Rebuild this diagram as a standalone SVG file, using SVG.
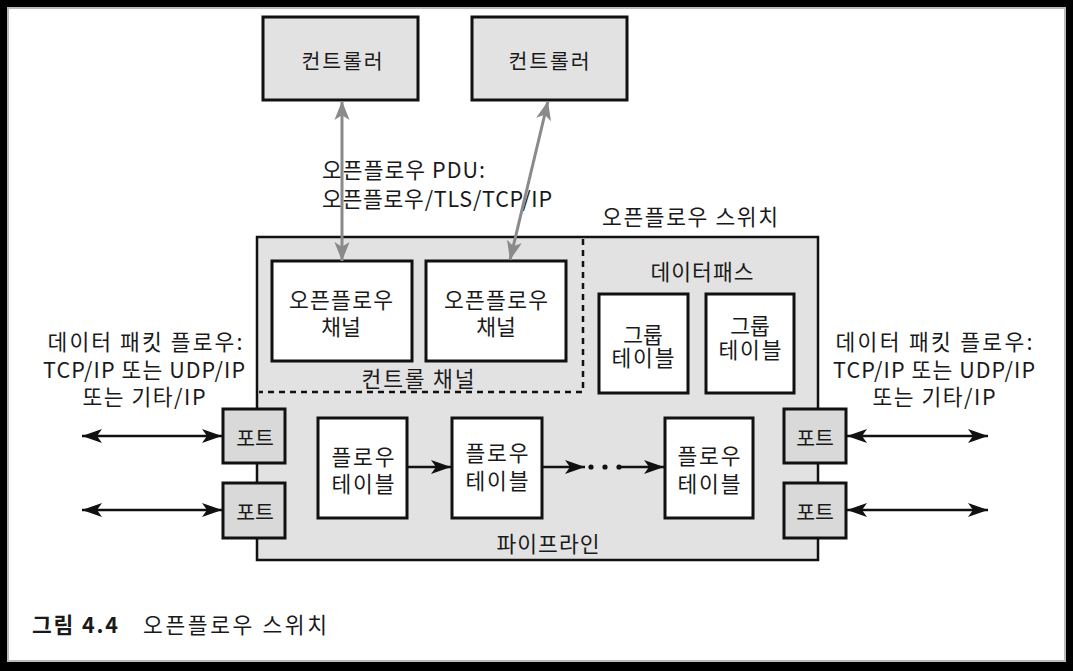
<svg xmlns="http://www.w3.org/2000/svg" width="1073" height="671" viewBox="0 0 1073 671">
<defs>
<style>
text{font-family:"Noto Sans CJK KR","Noto Sans",sans-serif;font-size:21.5px;fill:#1a1a1a;text-anchor:middle;dominant-baseline:central}
.lt{text-anchor:start}
.s20{font-size:20.5px}
.gray{fill:#e2e2e2;stroke:#111;stroke-width:3}
.port{fill:#d9d9d9;stroke:#111;stroke-width:3}
.white{fill:#fff;stroke:#111;stroke-width:3}
.blk{stroke:#111;stroke-width:2.5;fill:none}
.gry{stroke:#8a8a8a;stroke-width:3;fill:none}
</style>
<marker id="ab" viewBox="0 0 20 14" refX="20" refY="7" markerWidth="20" markerHeight="14" markerUnits="userSpaceOnUse" orient="auto-start-reverse"><path d="M0,0 L20,7 L0,14 L5,7 Z" fill="#111"/></marker>
<marker id="ag" viewBox="0 0 20 16" refX="20" refY="8" markerWidth="19" markerHeight="16" markerUnits="userSpaceOnUse" orient="auto-start-reverse"><path d="M0,0 L20,8 L0,16 L5,8 Z" fill="#8a8a8a"/></marker>
</defs>
<rect x="0" y="0" width="1073" height="671" fill="#000"/>
<rect x="8" y="8" width="1057" height="653" fill="#fff" stroke="#bbb" stroke-width="2"/>

<g id="switch">
<rect x="257" y="237" width="561" height="323" fill="#e2e2e2" stroke="#111" stroke-width="2.5"/>
<text x="690" y="215" textLength="176" lengthAdjust="spacing">오픈플로우 스위치</text>
<path d="M583,239 V392 H259" fill="none" stroke="#111" stroke-width="2.5" stroke-dasharray="6,5"/>
<text x="418" y="377" textLength="113" lengthAdjust="spacing">컨트롤 채널</text>
<text x="702" y="270" textLength="103" lengthAdjust="spacing">데이터패스</text>
<text x="548" y="542" textLength="103" lengthAdjust="spacing">파이프라인</text>
</g>

<g id="controller1"><rect class="gray" x="263" y="17" width="155" height="83"/><text class="s20" x="342" y="60" textLength="81" lengthAdjust="spacing">컨트롤러</text></g>
<g id="controller2"><rect class="gray" x="472" y="17" width="155" height="83"/><text class="s20" x="549" y="60" textLength="81" lengthAdjust="spacing">컨트롤러</text></g>

<g id="pdu-label">
<text class="lt" x="322" y="168"><tspan textLength="163" lengthAdjust="spacing">오픈플로우 PDU:</tspan><tspan x="322" dy="29" textLength="230" lengthAdjust="spacing">오픈플로우/TLS/TCP/IP</tspan></text>
</g>

<g id="channel1"><rect class="white" x="272" y="261" width="140" height="100"/><text x="341" y="298"><tspan textLength="104" lengthAdjust="spacing">오픈플로우</tspan><tspan x="341" dy="27">채널</tspan></text></g>
<g id="channel2"><rect class="white" x="426" y="261" width="140" height="100"/><text x="496" y="298"><tspan textLength="104" lengthAdjust="spacing">오픈플로우</tspan><tspan x="496" dy="27">채널</tspan></text></g>

<g id="group1"><rect class="white" x="599" y="294" width="89" height="99"/><text x="643" y="333"><tspan>그룹</tspan><tspan x="643" dy="23" textLength="63" lengthAdjust="spacing">테이블</tspan></text></g>
<g id="group2"><rect class="white" x="706" y="294" width="88" height="99"/><text x="750" y="324"><tspan>그룹</tspan><tspan x="750" dy="24" textLength="63" lengthAdjust="spacing">테이블</tspan></text></g>

<g id="flow1"><rect class="white" x="318" y="418" width="89" height="100"/><text x="363" y="455"><tspan textLength="63" lengthAdjust="spacing">플로우</tspan><tspan x="363" dy="27" textLength="63" lengthAdjust="spacing">테이블</tspan></text></g>
<g id="flow2"><rect class="white" x="452" y="418" width="90" height="100"/><text x="497" y="451"><tspan textLength="63" lengthAdjust="spacing">플로우</tspan><tspan x="497" dy="28" textLength="63" lengthAdjust="spacing">테이블</tspan></text></g>
<g id="flow3"><rect class="white" x="665" y="418" width="88" height="100"/><text x="709" y="454"><tspan textLength="63" lengthAdjust="spacing">플로우</tspan><tspan x="709" dy="28" textLength="63" lengthAdjust="spacing">테이블</tspan></text></g>

<g id="port-l1"><rect class="port" x="223" y="409" width="62" height="54"/><text class="s20" x="255" y="437">포트</text></g>
<g id="port-l2"><rect class="port" x="223" y="483" width="62" height="55"/><text class="s20" x="255" y="511">포트</text></g>
<g id="port-r1"><rect class="port" x="784" y="409" width="62" height="54"/><text class="s20" x="815" y="437">포트</text></g>
<g id="port-r2"><rect class="port" x="784" y="483" width="62" height="55"/><text class="s20" x="815" y="511">포트</text></g>

<g id="left-label">
<text x="145" y="340"><tspan textLength="195" lengthAdjust="spacing">데이터 패킷 플로우:</tspan><tspan x="144" dy="28" textLength="202" lengthAdjust="spacing">TCP/IP 또는 UDP/IP</tspan><tspan x="144" dy="27" textLength="123" lengthAdjust="spacing">또는 기타/IP</tspan></text>
</g>
<g id="right-label">
<text x="934" y="340"><tspan textLength="197" lengthAdjust="spacing">데이터 패킷 플로우:</tspan><tspan x="934" dy="28" textLength="202" lengthAdjust="spacing">TCP/IP 또는 UDP/IP</tspan><tspan x="934" dy="27" textLength="123" lengthAdjust="spacing">또는 기타/IP</tspan></text>
</g>

<g id="connectors">
<line class="gry" x1="342" y1="101" x2="342" y2="261" marker-start="url(#ag)" marker-end="url(#ag)"/>
<line class="gry" x1="548" y1="101" x2="510" y2="260" marker-start="url(#ag)" marker-end="url(#ag)"/>
<line class="blk" x1="82" y1="436" x2="222" y2="436" marker-start="url(#ab)" marker-end="url(#ab)"/>
<line class="blk" x1="82" y1="510" x2="222" y2="510" marker-start="url(#ab)" marker-end="url(#ab)"/>
<line class="blk" x1="847" y1="436" x2="988" y2="436" marker-start="url(#ab)" marker-end="url(#ab)"/>
<line class="blk" x1="847" y1="510" x2="988" y2="510" marker-start="url(#ab)" marker-end="url(#ab)"/>
<line class="blk" x1="408" y1="467" x2="451" y2="467" marker-end="url(#ab)"/>
<line class="blk" x1="543" y1="467" x2="585" y2="467" marker-end="url(#ab)"/>
<circle cx="591" cy="467" r="2.6" fill="#111"/>
<circle cx="605" cy="467" r="2.6" fill="#111"/>
<circle cx="619" cy="467" r="2.6" fill="#111"/>
<line class="blk" x1="620" y1="467" x2="664" y2="467" marker-end="url(#ab)"/>
</g>

<g id="caption">
<text class="lt" x="32" y="623" textLength="86" lengthAdjust="spacing" style="font-weight:700">그림 4.4</text>
<text class="lt" x="143" y="623" textLength="184" lengthAdjust="spacing">오픈플로우 스위치</text>
</g>
</svg>
